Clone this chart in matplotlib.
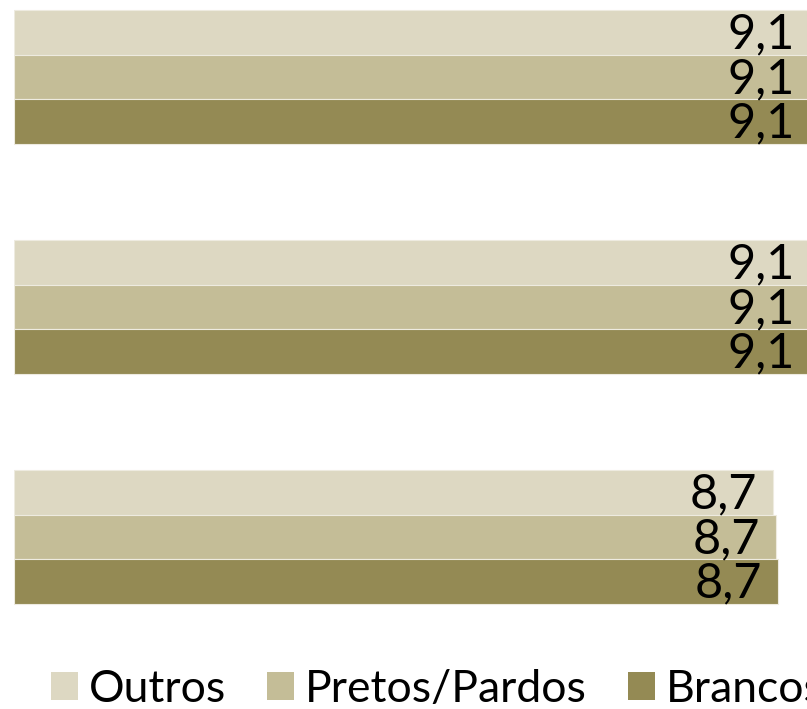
import matplotlib
matplotlib.use("Agg")
import matplotlib.pyplot as plt
from matplotlib.patches import Patch

# data (three groups, no visible category labels)
groups = ["Grupo 1", "Grupo 2", "Grupo 3"]
series = ["Outros", "Pretos/Pardos", "Brancos"]
outros = [9.1, 9.1, 8.66]
pretos = [9.1, 9.1, 8.70]
brancos = [9.1, 9.1, 8.72]
labels_outros = ["9,1", "9,1", "8,7"]
labels_pretos = ["9,1", "9,1", "8,7"]
labels_brancos = ["9,1", "9,1", "8,7"]

colors = ["#DDD8C2", "#C4BD97", "#948A54"]

plt.rcParams["font.family"] = ["Lato", "DejaVu Sans"]

W, H = 807, 709
fig = plt.figure(figsize=(W / 100, H / 100), dpi=100)
ax = fig.add_axes([14 / W, 0, 1 - 14 / W, 1])

bar_h = 0.1943
offsets = [-bar_h, 0.0, bar_h]
all_vals = [outros, pretos, brancos]
all_labels = [labels_outros, labels_pretos, labels_brancos]

for s, (vals, labs, col, off) in enumerate(zip(all_vals, all_labels, colors, offsets)):
    ys = [i + off for i in range(len(groups))]
    ax.barh(ys, vals, height=bar_h, color=col, edgecolor="#EEEBE0", linewidth=0.8)
    for y, v, t in zip(ys, vals, labs):
        ax.annotate(t, xy=(v, y), xytext=(-11.5, -1.5), textcoords="offset points",
                    ha="right", va="center", fontsize=35, color="black",
                    annotation_clip=False)

ax.set_xlim(0, (W - 14) / 87.6)
ax.set_ylim(2 + 172 / 230, -77 / 230)
ax.axis("off")

# legend runs off the right edge, as in the source
handles = [Patch(facecolor=c, edgecolor="none") for c in colors]
fig.legend(handles, series, loc="center left", bbox_to_anchor=(51 / W, 1 - 689 / H),
           ncol=3, frameon=False, fontsize=32, handlelength=0.6, handleheight=0.6,
           handletextpad=0.25, columnspacing=0.93, borderpad=0, borderaxespad=0)

fig.savefig("out.png", dpi=100)
